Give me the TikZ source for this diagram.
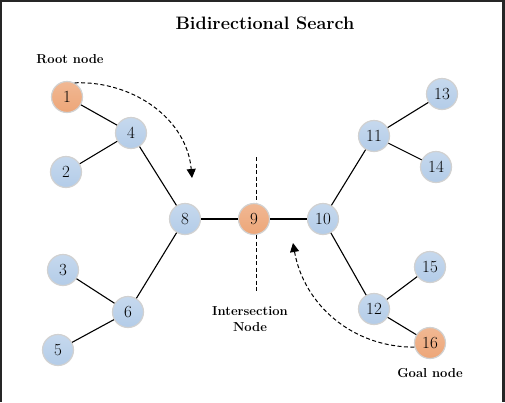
\documentclass[tikz,border=0pt]{standalone}
\usepackage{xcolor}
\usepackage{tikz}
\usetikzlibrary{arrows.meta,positioning,shapes,calc}

\definecolor{frameclr}{HTML}{262626}
\definecolor{bluefill}{HTML}{B3CCE8}
\definecolor{orgfill}{HTML}{EDA678}

\tikzset{
    vert/.style={circle,minimum size=31pt,inner sep=0pt,draw=black!18,line width=1.2pt,
        top color=bluefill!75!white,bottom color=bluefill,font=\fontsize{17}{19}\selectfont},
    endvert/.style={vert,top color=orgfill!80!white,bottom color=orgfill},
    edge/.style={line width=1.1pt,black},
    lbl/.style={font=\fontsize{13}{16}\selectfont\bfseries,align=center},
    dasharrow/.style={line width=1pt,dash pattern=on 4pt off 2.5pt,-{Triangle[length=9pt,width=9pt]}}
}

\begin{document}
\begin{tikzpicture}[x=1pt,y=-1pt]
    % frame of the screenshot
    \fill[frameclr] (0,0) rectangle (505,402);
    \fill[white] (2,2) rectangle (502,402);
    \useasboundingbox (0,0) rectangle (505,402);

    \node[font=\fontsize{18}{20}\selectfont\bfseries] (title) at (265,23) {Bidirectional Search};

    % cut through the intersection
    \coordinate (cuttop) at (256,157);
    \coordinate (cutbot) at (256,292);
    \draw[line width=1pt,dash pattern=on 4pt off 2.5pt] (cuttop) -- (cutbot);

    % left tree
    \node[endvert] (n1) at (67,97) {1};
    \node[vert] (n4) at (131,133) {4};
    \node[vert] (n2) at (66,172) {2};
    \node[vert] (n8) at (185,219) {8};
    \node[vert] (n3) at (63,270) {3};
    \node[vert] (n6) at (128,312) {6};
    \node[vert] (n5) at (58,350) {5};

    % middle
    \node[endvert] (n9) at (254,219) {9};

    % right tree
    \node[vert] (n10) at (323,219) {10};
    \node[vert] (n11) at (374,136) {11};
    \node[vert] (n13) at (442,94) {13};
    \node[vert] (n14) at (436,167) {14};
    \node[vert] (n12) at (374,309) {12};
    \node[vert] (n15) at (430,267) {15};
    \node[endvert] (n16) at (430,343) {16};

    \draw[edge] (n1) -- (n4);
    \draw[edge] (n2) -- (n4);
    \draw[edge] (n4) -- (n8);
    \draw[edge] (n3) -- (n6);
    \draw[edge] (n5) -- (n6);
    \draw[edge] (n6) -- (n8);
    \draw[edge] (n8) -- (n9);
    \draw[edge] (n9) -- (n10);
    \draw[edge] (n10) -- (n11);
    \draw[edge] (n11) -- (n13);
    \draw[edge] (n11) -- (n14);
    \draw[edge] (n10) -- (n12);
    \draw[edge] (n12) -- (n15);
    \draw[edge] (n12) -- (n16);

    % labels
    \node[lbl] (rootlbl) at (70,59) {Root node};
    \node[lbl] (interlbl) at (250,319) {Intersection\\Node};
    \node[lbl] (goallbl) at (430,373) {Goal node};

    % search directions
    \coordinate (tipA) at (192,178);
    \coordinate (tipB) at (293,243);
    \draw[dasharrow] (n1.62) to[out=2,in=95] (tipA);
    \draw[dasharrow] (n16.195) to[out=180,in=-80] (tipB);
\end{tikzpicture}
\end{document}
